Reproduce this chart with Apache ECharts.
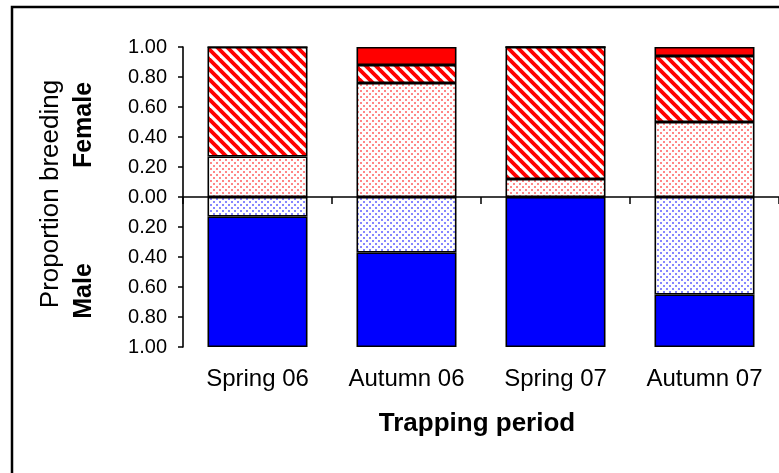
<!DOCTYPE html>
<html>
<head>
<meta charset="utf-8">
<script src="https://cdn.jsdelivr.net/npm/echarts@6/dist/echarts.min.js"></script>
<style>
html,body{margin:0;padding:0;background:#fff;}
#c{width:779px;height:473px;}
</style>
</head>
<body>
<div id="c"></div>
<script>
var categories = ['Spring 06', 'Autumn 06', 'Spring 07', 'Autumn 07'];
var femaleDotted = [0.27, 0.76, 0.12, 0.50];
var femaleStriped = [0.73, 0.12, 0.88, 0.44];
var femaleSolid = [0, 0.12, 0, 0.06];
var maleDotted = [0.13, 0.37, 0, 0.65];
var maleSolid = [0.87, 0.63, 1.00, 0.35];
var yTicks = [-1, -0.8, -0.6, -0.4, -0.2, 0, 0.2, 0.4, 0.6, 0.8, 1];

function dotPattern(color) {
  var c = document.createElement('canvas');
  c.width = 6; c.height = 6;
  var g = c.getContext('2d');
  g.fillStyle = '#fff'; g.fillRect(0, 0, 6, 6);
  g.fillStyle = color;
  g.fillRect(0, 0, 2, 2);
  g.fillRect(3, 3, 2, 2);
  return c;
}
function stripePattern(color) {
  var s = 10;
  var c = document.createElement('canvas');
  c.width = s; c.height = s;
  var g = c.getContext('2d');
  g.fillStyle = '#fff'; g.fillRect(0, 0, s, s);
  g.strokeStyle = color; g.lineWidth = 3.8;
  for (var k = -1; k <= 1; k++) {
    g.beginPath();
    g.moveTo(k * s - 3, -3);
    g.lineTo(k * s + s + 3, s + 3);
    g.stroke();
  }
  return c;
}
var redDots = {image: dotPattern('rgba(255,70,70,0.65)'), repeat: 'repeat'};
var blueDots = {image: dotPattern('rgba(70,70,255,0.65)'), repeat: 'repeat'};
var redStripes = {image: stripePattern('#ff0000'), repeat: 'repeat'};

function neg(a) { return a.map(function (v) { return -v; }); }
function barSeries(name, data, color) {
  return {
    name: name, type: 'bar', stack: 'all', data: data,
    xAxisIndex: 0, barWidth: 100,
    itemStyle: {color: color, borderColor: '#000', borderWidth: 1.6},
    emphasis: {disabled: true}
  };
}

var chart = echarts.init(document.getElementById('c'));
chart.setOption({
  animation: false,
  backgroundColor: '#fff',
  grid: {left: 183, top: 47, width: 596, height: 300},
  xAxis: [{
    type: 'category', data: categories, position: 'bottom',
    axisLine: {onZero: true, lineStyle: {color: '#000', width: 1.6}},
    axisTick: {show: true, interval: 0, length: 7, lineStyle: {color: '#000', width: 1.5}},
    axisLabel: {show: false}
  }, {
    type: 'category', data: categories, position: 'bottom',
    axisLine: {show: false, onZero: false}, axisTick: {show: false},
    axisLabel: {show: true, interval: 0, margin: 20, color: '#000', fontSize: 24, fontFamily: 'Liberation Sans, Arial, sans-serif'}
  }],
  yAxis: {
    type: 'value', min: -1, max: 1, interval: 0.2,
    axisLine: {show: true, lineStyle: {color: '#000', width: 1.6}},
    axisTick: {show: true, length: 5, lineStyle: {color: '#000', width: 1.5}},
    splitLine: {show: false},
    axisLabel: {
      margin: 16, color: '#000', fontSize: 20, fontFamily: 'Liberation Sans, Arial, sans-serif',
      formatter: function (v) { return Math.abs(v).toFixed(2); }
    }
  },
  series: [
    barSeries('Female dotted', femaleDotted, redDots),
    barSeries('Female striped', femaleStriped, redStripes),
    barSeries('Female solid', femaleSolid, '#ff0000'),
    barSeries('Male dotted', neg(maleDotted), blueDots),
    barSeries('Male solid', neg(maleSolid), '#0000ff')
  ],
  graphic: [
    {type: 'rect', shape: {x: 12, y: 7, width: 800, height: 500}, style: {fill: 'none', stroke: '#000', lineWidth: 2.5}, silent: true},
    {type: 'text', x: 51, y: 194, rotation: Math.PI / 2, style: {text: 'Proportion breeding', fontSize: 26, fontFamily: 'Liberation Sans, Arial, sans-serif', fill: '#000', align: 'center', verticalAlign: 'middle'}},
    {type: 'text', x: 84, y: 125, rotation: Math.PI / 2, style: {text: 'Female', fontSize: 25, fontWeight: 'bold', fontFamily: 'Liberation Sans, Arial, sans-serif', fill: '#000', align: 'center', verticalAlign: 'middle'}},
    {type: 'text', x: 84, y: 291, rotation: Math.PI / 2, style: {text: 'Male', fontSize: 25, fontWeight: 'bold', fontFamily: 'Liberation Sans, Arial, sans-serif', fill: '#000', align: 'center', verticalAlign: 'middle'}},
    {type: 'text', x: 477, y: 424, style: {text: 'Trapping period', fontSize: 26, fontWeight: 'bold', fontFamily: 'Liberation Sans, Arial, sans-serif', fill: '#000', align: 'center', verticalAlign: 'middle'}}
  ]
});
</script>
</body>
</html>
